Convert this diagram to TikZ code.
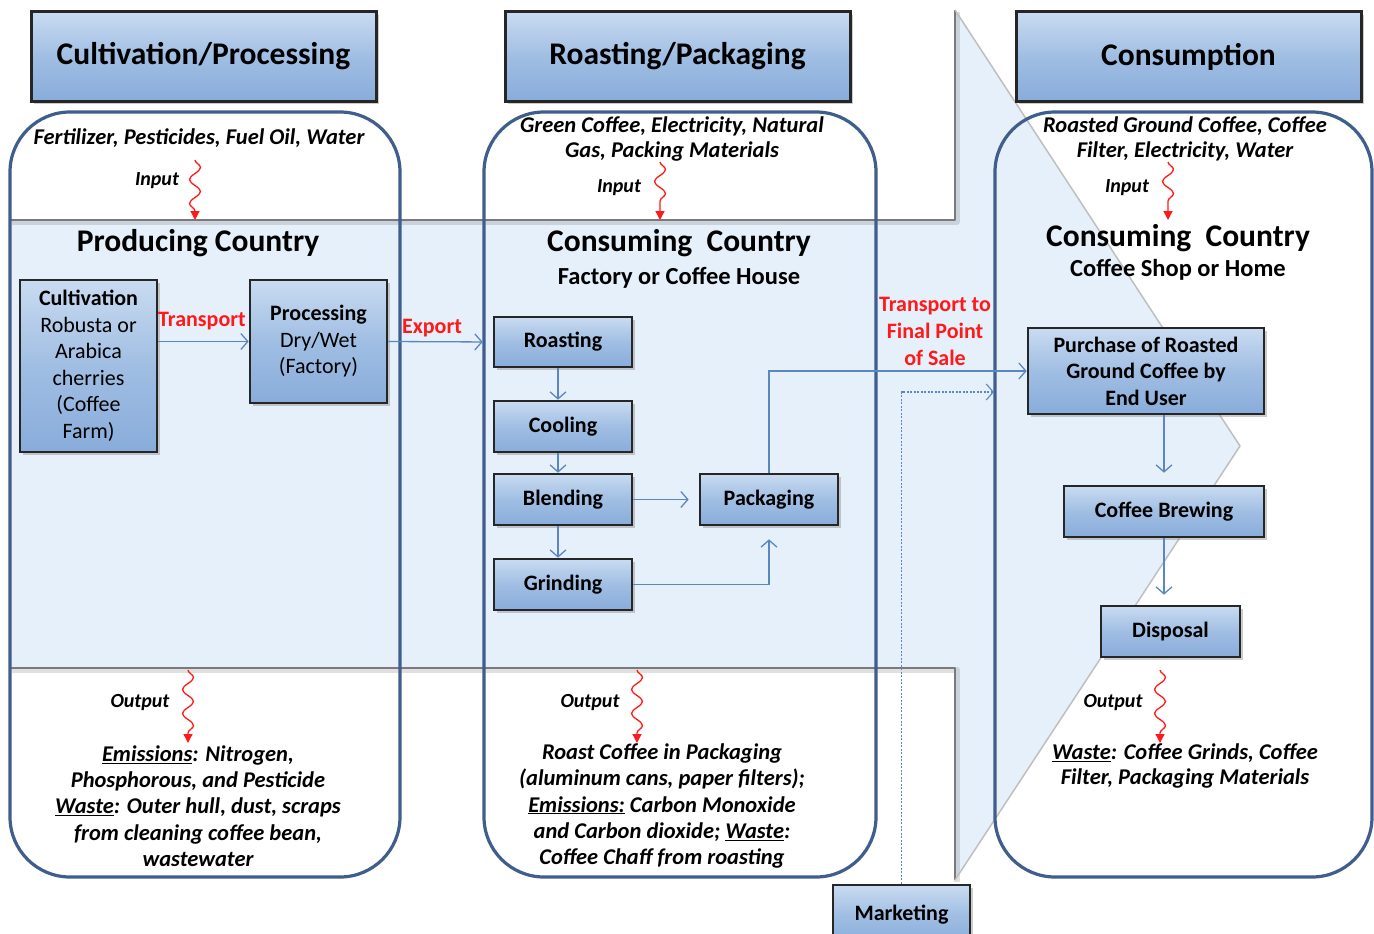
\documentclass[tikz,border=0pt]{standalone}
\usepackage{fontspec}
\setmainfont{Carlito}
\usetikzlibrary{arrows.meta,decorations.pathmorphing,shadows,calc}

\definecolor{bandfill}{HTML}{E6F0FB}
\definecolor{bandedge}{HTML}{7A7A7A}
\definecolor{coledge}{HTML}{3F5E8C}
\definecolor{boxtop}{HTML}{C9DBF1}
\definecolor{boxmid}{HTML}{A0BEE3}
\definecolor{boxbot}{HTML}{88ACDA}
\definecolor{flowblue}{HTML}{5B87C0}
\definecolor{hot}{HTML}{FF1A1A}

\tikzset{
  boxbase/.style={draw=black!85, top color=boxtop, bottom color=boxbot, middle color=boxmid,
    drop shadow={opacity=0.4, shadow xshift=3pt, shadow yshift=-3pt},
    inner sep=0pt, align=center},
  stage/.style={boxbase, line width=3pt, minimum width=345pt, minimum height=89pt,
    font=\fontsize{31.5}{35}\selectfont\bfseries},
  procbox/.style={boxbase, line width=2.6pt, font=\fontsize{22}{26.5}\selectfont\bfseries},
  colbox/.style={draw=coledge, line width=3.2pt, rounded corners=60pt},
  flow/.style={draw=flowblue, line width=1.3pt, -{Straight Barb[length=7pt,width=16pt]}},
  promo/.style={draw=flowblue, line width=1.1pt, dash pattern=on 2pt off 1.5pt,
    -{Straight Barb[length=7pt,width=16pt]}},
  wavy/.style={draw=hot, line width=1.3pt, decorate,
    decoration={snake, amplitude=5.5pt, segment length=24pt, post length=8pt},
    -{Triangle[length=9pt,width=9pt]}},
  io/.style={font=\fontsize{20}{25.5}\selectfont\bfseries\itshape, align=center, inner sep=0pt},
  iolong/.style={font=\fontsize{22.5}{25.5}\selectfont\bfseries\itshape, align=center, inner sep=0pt},
  iolonger/.style={iolong, font=\fontsize{22.5}{26.3}\selectfont\bfseries\itshape},
  country/.style={font=\fontsize{31.5}{34}\selectfont\bfseries, inner sep=0pt},
  site/.style={font=\fontsize{24.5}{28}\selectfont\bfseries, inner sep=0pt},
  redlab/.style={text=hot, font=\fontsize{22}{27}\selectfont\bfseries, align=center, inner sep=0pt},
}

\begin{document}
\begin{tikzpicture}[x=1pt, y=-1pt]
\useasboundingbox (0,0) rectangle (1374,934);
\clip (0,0) rectangle (1374,934);
\fill[white] (0,0) rectangle (1374,934);

% the large supply-chain arrow in the background
\fill[bandfill] (10,220) -- (955,220) -- (955,10) -- (1240,446) -- (955,880)
  -- (955,668) -- (10,668) -- cycle;
\draw[black, opacity=0.12, line width=6pt, line join=round]
  ([shift={(2,2)}]10,220) -- ([shift={(2,2)}]955,220) -- ([shift={(2,2)}]955,10);
\draw[black, opacity=0.12, line width=6pt, line join=round]
  ([shift={(2,2)}]10,668) -- ([shift={(2,2)}]955,668) -- ([shift={(2,2)}]955,880);
\draw[bandedge, line width=2.5pt, line join=round] (10,220) -- (955,220) -- (955,10);
\draw[bandedge, line width=2.5pt, line join=round] (10,668) -- (955,668) -- (955,880);
\draw[black!25, line width=1.5pt, line join=round] (955,10) -- (1240,446) -- (955,880);

% the three stage columns
\draw[colbox] (10,112) rectangle (400,877);
\draw[colbox] (484,112) rectangle (876,877);
\draw[colbox] (995,112) rectangle (1372,877);

% stage headers
\node[stage] (h1) at (203.5,56.5) {Cultivation/Processing};
\node[stage] (h2) at (677.5,56.5) {Roasting/Packaging};
\node[stage] (h3) at (1188.5,56.5) {Consumption};

% process steps
\node[procbox, minimum width=137pt, minimum height=172pt] (cult) at (88.5,366)
  {Cultivation\\\mdseries Robusta or\\\mdseries Arabica\\\mdseries cherries\\\mdseries (Coffee\\\mdseries Farm)};
\node[procbox, minimum width=137pt, minimum height=123pt] (proc) at (318.5,341.5)
  {Processing\\\mdseries Dry/Wet\\\mdseries (Factory)};
\node[procbox, minimum width=138pt, minimum height=50pt] (roast) at (563,342) {Roasting};
\node[procbox, minimum width=138pt, minimum height=51pt] (cool) at (563,426.5) {Cooling};
\node[procbox, minimum width=138pt, minimum height=51pt] (blend) at (563,499.5) {Blending};
\node[procbox, minimum width=138pt, minimum height=51pt] (grind) at (563,584.5) {Grinding};
\node[procbox, minimum width=138pt, minimum height=51pt] (pack) at (769,499.5) {Packaging};
\node[procbox, minimum width=236pt, minimum height=86pt] (purch) at (1146,371)
  {Purchase of Roasted\\Ground Coffee by\\End User};
\node[procbox, minimum width=200pt, minimum height=51pt] (brew) at (1164,511.5) {Coffee Brewing};
\node[procbox, minimum width=139pt, minimum height=51pt] (disp) at (1170.5,631.5) {Disposal};
\node[procbox, minimum width=137pt, minimum height=60pt] (mkt) at (901.5,915) {Marketing};

% flows between steps
\draw[flow] (proc.west -| cult.east) -- (proc.west);
\draw[flow, shorten >=10pt] (proc.east) -- (roast.west);
\draw[flow] ([xshift=-5pt]roast.south) -- ([xshift=-5pt]cool.north);
\draw[flow] ([xshift=-5pt]cool.south) -- ([xshift=-5pt]blend.north);
\draw[flow] ([xshift=-5pt]blend.south) -- ([xshift=-5pt]grind.north);
\draw[flow, shorten >=10pt] (blend.east) -- (pack.west);
\draw[flow, shorten >=13pt] (grind.east) -| (pack.south);
\draw[flow] (pack.north) |- (purch.west);
\draw[flow, shorten >=12pt] (brew.north |- purch.south) -- (brew.north);
\draw[flow, shorten >=10pt] (brew.south) -- (brew.south |- disp.north);
\coordinate (mktend) at (994,392);
\draw[promo] (mkt.north) |- (mktend);

% flow labels
\node[redlab] (tr) at (202,321) {Transport};
\node[redlab] (ex) at (432,328) {Export};
\node[redlab] (tf) at (935,331) {Transport to\\Final Point\\of Sale};

% country captions
\node[country] (pc) at (198,243) {Producing Country};
\node[country] (cc1) at (679,243) {Consuming~ Country};
\node[site] (fc) at (679,278) {Factory or Coffee House};
\node[country] (cc2) at (1178,238) {Consuming~ Country};
\node[site] (sh) at (1178,270) {Coffee Shop or Home};

% inputs
\node[iolong] (in1) at (199,138) {Fertilizer, Pesticides, Fuel Oil, Water};
\node[iolong] (in2) at (672,139) {Green Coffee, Electricity, Natural\\Gas, Packing Materials};
\node[iolong] (in3) at (1185,139) {Roasted Ground Coffee, Coffee\\Filter, Electricity, Water};
\node[io] (il1) at (157,181) {Input};
\node[io] (il2) at (619,188) {Input};
\node[io] (il3) at (1127,188) {Input};
\coordinate (i1a) at (195,160); \coordinate (i1b) at (195,220);
\coordinate (i2a) at (660,162); \coordinate (i2b) at (660,220);
\coordinate (i3a) at (1168,162); \coordinate (i3b) at (1168,220);
\draw[wavy] (i1a) -- (i1b);
\draw[wavy] (i2a) -- (i2b);
\draw[wavy] (i3a) -- (i3b);

% outputs
\node[io] (ol1) at (140,703) {Output};
\node[io] (ol2) at (590,703) {Output};
\node[io] (ol3) at (1113,703) {Output};
\coordinate (o1a) at (188,670); \coordinate (o1b) at (188,743);
\coordinate (o2a) at (637,670); \coordinate (o2b) at (637,743);
\coordinate (o3a) at (1160,670); \coordinate (o3b) at (1160,743);
\draw[wavy] (o1a) -- (o1b);
\draw[wavy] (o2a) -- (o2b);
\draw[wavy] (o3a) -- (o3b);
\node[iolonger] (out1) at (198,806)
  {\underline{Emissions}: Nitrogen,\\Phosphorous, and Pesticide\\\underline{Waste}: Outer hull, dust, scraps\\from cleaning coffee bean,\\wastewater};
\node[iolonger] (out2) at (662,806)
  {Roast Coffee in Packaging\\(aluminum cans, paper filters);\\\underline{Emissions:} Carbon Monoxide\\and Carbon dioxide; \underline{Waste}:\\Coffee Chaff from roasting};
\node[iolong] (out3) at (1185,766)
  {\underline{Waste}: Coffee Grinds, Coffee\\Filter, Packaging Materials};
\end{tikzpicture}
\end{document}
